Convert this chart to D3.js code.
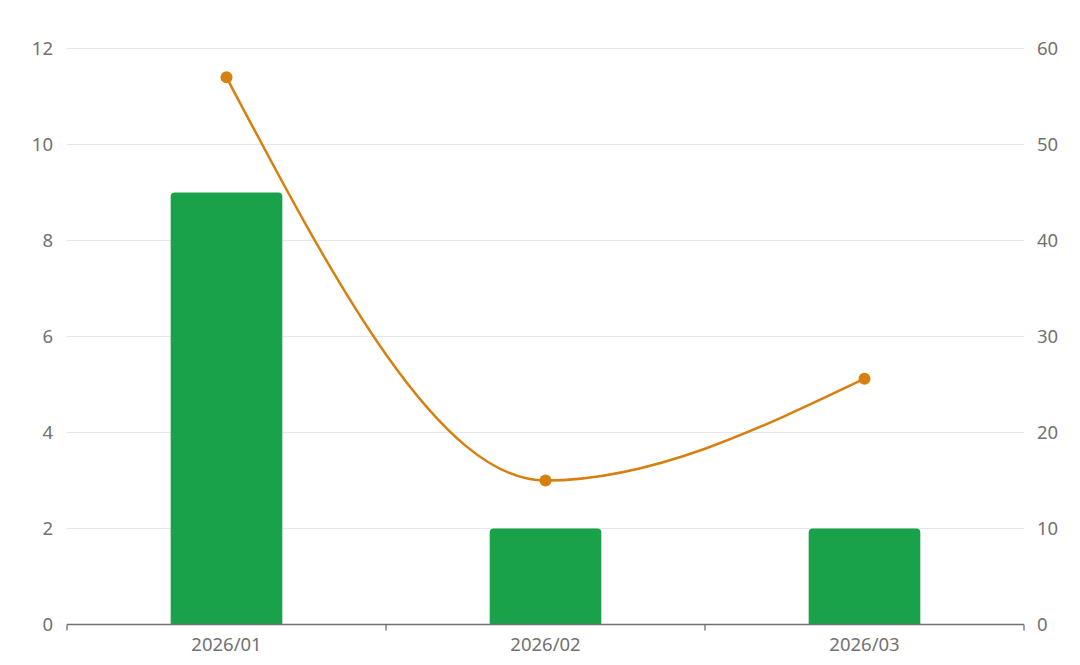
<!DOCTYPE html>
<html><head><meta charset="utf-8">
<script src="https://cdn.jsdelivr.net/npm/d3@7"></script>
<style>body{margin:0;background:#fff}svg{display:block}</style>
</head><body>
<script>
const categories = ["2026/01", "2026/02", "2026/03"];
const barValues = [9, 2, 2];
const lineValues = [57, 15, 25.6];
const leftTicks = [0, 2, 4, 6, 8, 10, 12];
const rightTicks = [0, 10, 20, 30, 40, 50, 60];

const W = 1080, H = 665;
const m = {left: 67, right: 56, top: 48.5, bottom: 40.5};
const svg = d3.select("body").append("svg").attr("width", W).attr("height", H);
const x = d3.scaleBand().domain(categories).range([m.left, W - m.right]).paddingInner(0).paddingOuter(0);
const yL = d3.scaleLinear().domain([0, 12]).range([H - m.bottom, m.top]);
const yR = d3.scaleLinear().domain([0, 60]).range([H - m.bottom, m.top]);
const font = "'Noto Sans', 'Open Sans', sans-serif";
const txt = "#727272";
const fs = 18.5;

// grid
svg.append("g").selectAll("line").data(leftTicks.filter(d => d > 0)).join("line")
  .attr("x1", m.left).attr("x2", W - m.right)
  .attr("y1", d => yL(d)).attr("y2", d => yL(d))
  .attr("stroke", "#e4e6ec").attr("stroke-width", 1.2);

// left labels
svg.append("g").selectAll("text").data(leftTicks).join("text")
  .attr("x", 53).attr("y", d => yL(d)).attr("dy", "0.35em")
  .attr("text-anchor", "end").attr("font-family", font).attr("font-size", fs)
  .attr("fill", txt).text(d => d);
// right labels
svg.append("g").selectAll("text").data(rightTicks).join("text")
  .attr("x", 1037).attr("y", d => yR(d)).attr("dy", "0.35em")
  .attr("text-anchor", "start").attr("font-family", font).attr("font-size", fs)
  .attr("fill", txt).text(d => d);

// bars
const bw = x.bandwidth() * 0.35;
const r = 4;
svg.append("g").selectAll("path").data(categories).join("path")
  .attr("fill", "#1aa24b")
  .attr("d", (c, i) => {
    const x0 = x(c) + (x.bandwidth() - bw) / 2, x1 = x0 + bw;
    const y0 = yL(barValues[i]), yb = yL(0);
    return `M${x0},${yb}V${y0 + r}Q${x0},${y0} ${x0 + r},${y0}H${x1 - r}Q${x1},${y0} ${x1},${y0 + r}V${yb}Z`;
  });

// x axis
const ax = svg.append("g");
ax.append("line").attr("x1", m.left).attr("x2", W - m.right)
  .attr("y1", yL(0)).attr("y2", yL(0)).attr("stroke", "#6e7079").attr("stroke-width", 1.3);
const bounds = categories.map(c => x(c)).concat([x(categories[categories.length - 1]) + x.bandwidth()]);
ax.selectAll("line.t").data(bounds).join("line").attr("class", "t")
  .attr("x1", d => d).attr("x2", d => d).attr("y1", yL(0)).attr("y2", yL(0) + 6)
  .attr("stroke", "#6e7079").attr("stroke-width", 1.3);
ax.selectAll("text").data(categories).join("text")
  .attr("x", d => x(d) + x.bandwidth() / 2).attr("y", yL(0) + 20).attr("dy", "0.35em")
  .attr("text-anchor", "middle").attr("font-family", font).attr("font-size", fs)
  .attr("fill", txt).text(d => d);

// line
const pts = categories.map((c, i) => [x(c) + x.bandwidth() / 2, yR(lineValues[i])]);
svg.append("path").attr("d", d3.line().curve(d3.curveMonotoneX)(pts))
  .attr("fill", "none").attr("stroke", "#d6800f").attr("stroke-width", 2.5);
svg.append("g").selectAll("circle").data(pts).join("circle")
  .attr("cx", d => d[0]).attr("cy", d => d[1]).attr("r", 6).attr("fill", "#d6800f");
</script>
</body></html>
